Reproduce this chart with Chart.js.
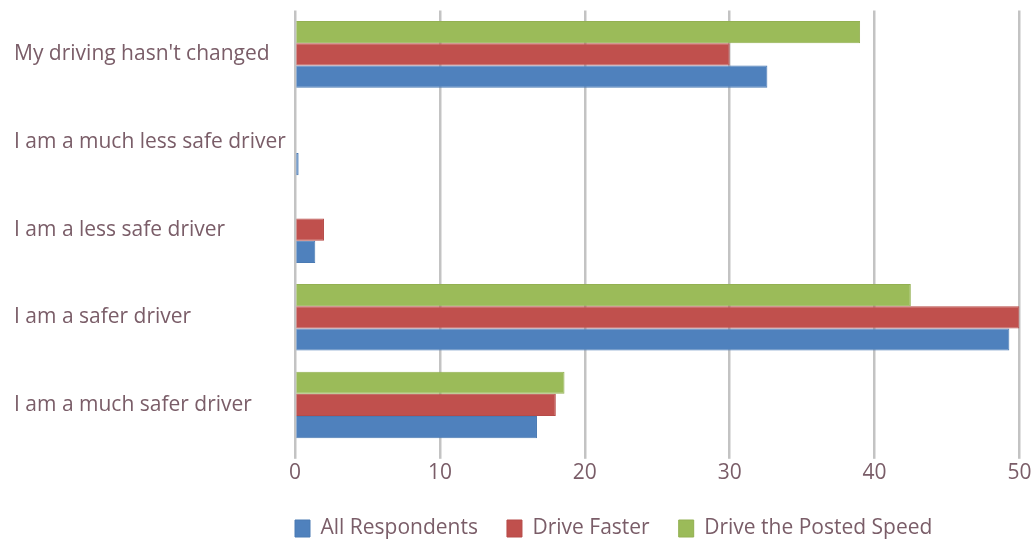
<!DOCTYPE html>
<html>
<head>
<meta charset="utf-8">
<script src="https://cdn.jsdelivr.net/npm/chart.js@4.4.1/dist/chart.umd.min.js"></script>
<style>
  html, body { margin: 0; padding: 0; background: #ffffff; }
  #wrap { width: 1033px; height: 541px; position: relative; }
</style>
</head>
<body>
<div id="wrap"><canvas id="chart"></canvas></div>
<script>
// Survey answers, top to bottom
const categories = [
  "My driving hasn't changed",
  "I am a much less safe driver",
  "I am a less safe driver",
  "I am a safer driver",
  "I am a much safer driver"
];

// Percent of respondents per answer
const allRespondents = [32.6, 0.25, 1.4, 49.3, 16.7];
const driveFaster = [30.0, 0, 2.0, 50.0, 18.0];
const drivePostedSpeed = [39.0, 0, 0, 42.5, 18.6];

const xTicks = [0, 10, 20, 30, 40, 50];

const textColor = '#7a5d68';
const gridColor = '#c3c3c3';
const fontFamily = "'Open Sans', 'Liberation Sans', sans-serif";
const fontSize = 21;

// Put the legend's first swatch on the plot's left edge and nudge it down a little
const legendPlacement = {
  id: 'legendPlacement',
  afterLayout(chart) {
    const lg = chart.legend;
    if (!lg) return;
    const pad = lg.options.labels.padding;
    const dx = chart.chartArea.left - pad - lg.left;
    lg.left += dx;
    lg.right += dx;
    lg.top += 2;
    lg.bottom += 2;
  }
};

new Chart(document.getElementById('chart'), {
  type: 'bar',
  data: {
    labels: categories,
    datasets: [
      { label: 'Drive the Posted Speed', data: drivePostedSpeed, backgroundColor: '#9bbb59', borderColor: '#93b052', borderWidth: 1 },
      { label: 'Drive Faster', data: driveFaster, backgroundColor: '#c0504d', borderColor: '#b64b48', borderWidth: 1 },
      { label: 'All Respondents', data: allRespondents, backgroundColor: '#4f81bd', borderColor: '#4a7ab3', borderWidth: 1 }
    ]
  },
  options: {
    indexAxis: 'y',
    responsive: true,
    maintainAspectRatio: false,
    animation: false,
    layout: { padding: { left: 14, right: 13, top: 10, bottom: -6 } },
    datasets: {
      bar: { categoryPercentage: 0.76, barPercentage: 1.0 }
    },
    scales: {
      x: {
        min: 0,
        max: 50,
        afterBuildTicks(scale) { scale.ticks = xTicks.map(v => ({ value: v })); },
        grid: { color: gridColor, lineWidth: 2.5, tickLength: 10, drawTicks: true },
        border: { display: false },
        ticks: { color: textColor, font: { family: fontFamily, size: fontSize }, padding: 1.5 }
      },
      y: {
        grid: { display: false },
        border: { display: false },
        afterFit(scale) { scale.width = 281; },
        ticks: {
          crossAlign: 'far',
          padding: 0,
          color: textColor,
          font: { family: fontFamily, size: fontSize, lineHeight: 1 }
        }
      }
    },
    plugins: {
      legend: {
        position: 'bottom',
        reverse: true,
        fullSize: false,
        align: 'start',
        labels: {
          color: textColor,
          font: { family: fontFamily, size: fontSize },
          boxWidth: 15,
          boxHeight: 17,
          padding: 29
        }
      },
      tooltip: { enabled: false }
    }
  },
  plugins: [legendPlacement]
});
</script>
</body>
</html>
